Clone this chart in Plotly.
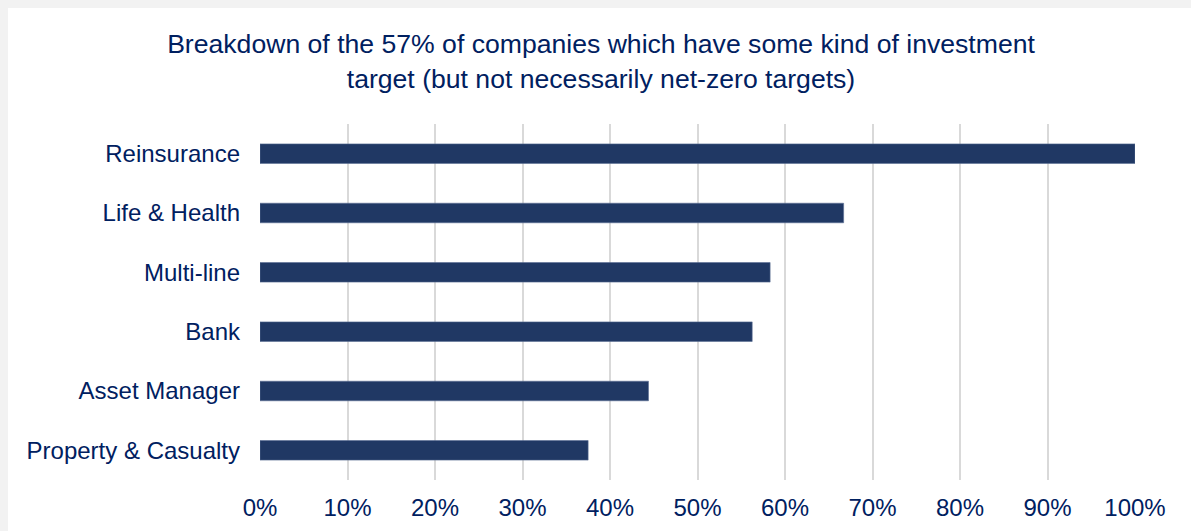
import plotly.graph_objects as go

# Share of companies (within the 57% with an investment target) by sector
sectors = ["Property & Casualty", "Asset Manager", "Bank", "Multi-line",
           "Life & Health", "Reinsurance"]
shares = [0.375, 0.444, 0.5625, 0.583, 0.667, 1.0]

tick_vals = [i / 10 for i in range(11)]
tick_text = [f"{i * 10}%" for i in range(11)]

title_text = ("Breakdown of the 57% of companies which have some kind of investment"
              "<br>target (but not necessarily net-zero targets)")

W, H = 1191, 531
L, R, T, B = 260, 56, 124, 51
plot_w, plot_h = W - L - R, H - T - B

text_color = "#002060"
bar_color = "#203864"
font_family = "Liberation Sans, Arial, sans-serif"

fig = go.Figure(go.Bar(
    x=shares,
    y=sectors,
    orientation="h",
    width=0.33,
    marker=dict(color=bar_color, line=dict(color="#5b6f93", width=0.6)),
    hoverinfo="x+y",
))

# White panel over the light grey page background
fig.add_shape(
    type="rect", xref="paper", yref="paper", layer="below",
    x0=(8 - L) / plot_w, x1=(W + 10 - L) / plot_w,
    y0=-(B + 10) / plot_h, y1=1 + (T - 8) / plot_h,
    fillcolor="white", line=dict(width=0),
)

fig.update_layout(
    width=W, height=H,
    margin=dict(l=L, r=R, t=T, b=B),
    paper_bgcolor="#f2f2f2",
    plot_bgcolor="rgba(0,0,0,0)",
    font=dict(family=font_family, size=24, color=text_color),
    title=dict(
        text=title_text,
        x=601 / W, xanchor="center",
        y=1 - 53 / H, yanchor="top",
        font=dict(size=26.6, color=text_color, family=font_family),
    ),
    xaxis=dict(
        range=[0, 1],
        tickvals=tick_vals,
        ticktext=tick_text,
        showgrid=True,
        gridcolor="#d9d9d9",
        gridwidth=2,
        zeroline=False,
        showline=False,
        ticks="",
        automargin=False,
        ticklabelstandoff=11,
        tickfont=dict(size=24, color=text_color),
    ),
    yaxis=dict(
        range=[-0.5, 5.5],
        showgrid=False,
        zeroline=False,
        showline=False,
        ticks="",
        automargin=False,
        ticklabelstandoff=19,
        tickfont=dict(size=24, color=text_color),
    ),
    showlegend=False,
    bargap=0.67,
)

fig.write_html("out.html")
